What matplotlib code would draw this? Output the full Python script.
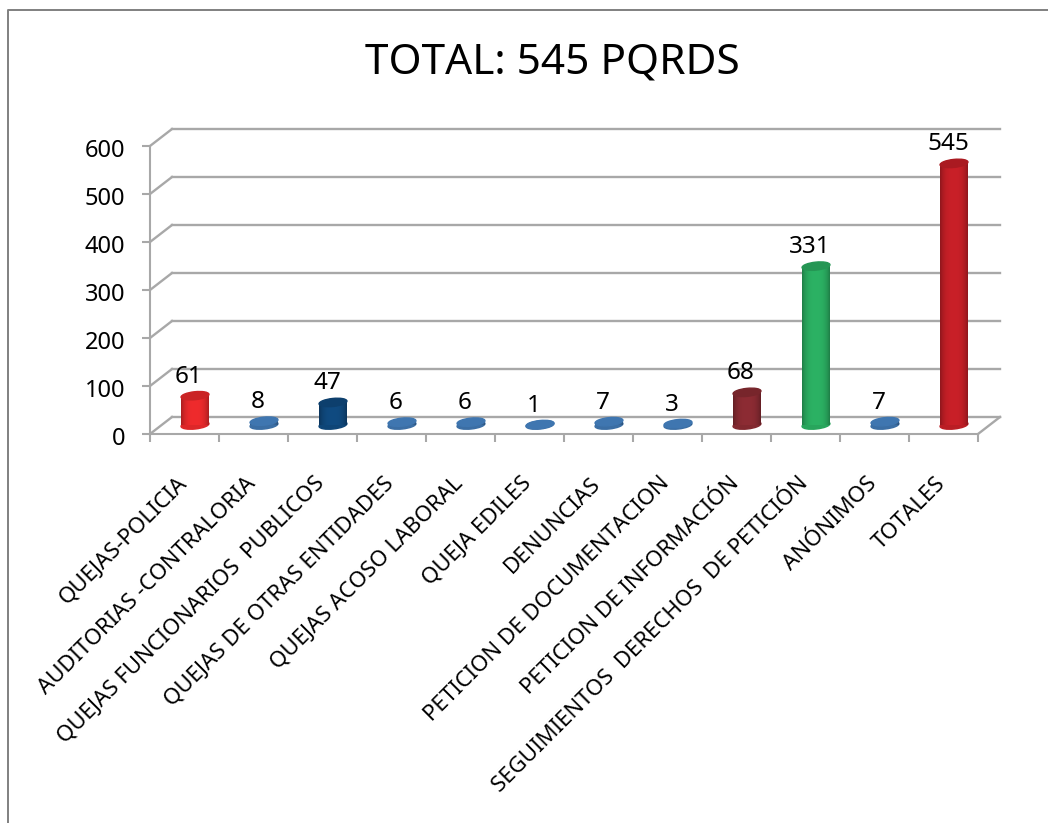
import matplotlib
matplotlib.use('Agg')
import matplotlib.pyplot as plt
from matplotlib.colors import to_rgb
from matplotlib.lines import Line2D
from matplotlib.patches import Ellipse
from matplotlib.transforms import Affine2D, IdentityTransform, offset_copy

categories = ['QUEJAS-POLICIA', 'AUDITORIAS -CONTRALORIA', 'QUEJAS FUNCIONARIOS  PUBLICOS',
              'QUEJAS DE OTRAS ENTIDADES', 'QUEJAS ACOSO LABORAL', 'QUEJA EDILES', 'DENUNCIAS',
              'PETICION DE DOCUMENTACION', 'PETICION DE INFORMACIÓN',
              'SEGUIMIENTOS  DERECHOS  DE PETICIÓN', 'ANÓNIMOS', 'TOTALES']
values = [61, 8, 47, 6, 6, 1, 7, 3, 68, 331, 7, 545]
colors = ['#ee2a2c', '#3f76b0', '#0f4a80', '#3f76b0', '#3f76b0', '#3f76b0', '#3f76b0', '#3f76b0',
          '#8c2b33', '#2bb163', '#3f76b0', '#c81f27']
yticks = [0, 100, 200, 300, 400, 500, 600]
title = 'TOTAL: 545 PQRDS'

W, H = 1048, 823
GREY = '#a8a8a8'
DX, DY = 22, 17  # profundidad del piso en pixeles

plt.rcParams['font.family'] = ['Noto Sans', 'DejaVu Sans']

fig = plt.figure(figsize=(W / 100, H / 100), dpi=100)
ax = fig.add_axes([150 / W, (H - 434) / H, 828 / W, 288 / H])
ax.set_xlim(0, len(categories))
ax.set_ylim(0, 600)
ax.autoscale(False)
ax.patch.set_visible(False)

for s in ['top', 'right']:
    ax.spines[s].set_visible(False)
for s in ['left', 'bottom']:
    ax.spines[s].set_color(GREY)
    ax.spines[s].set_linewidth(1.5)

# marco exterior, abierto abajo y a la derecha
fig.add_artist(Line2D([8 / W, 8 / W, 1], [0, (H - 10) / H, (H - 10) / H],
                      color='#808080', lw=1.4))

# grilla del plano de atras
back = offset_copy(ax.transData, fig, x=DX, y=DY, units='dots')
for v in yticks:
    ax.plot([0, len(categories)], [v, v], color=GREY, lw=1.7, transform=back, clip_on=False, zorder=1)
    px, py = ax.transData.transform((0, v))
    ax.plot([px, px + DX], [py, py + DY], color=GREY, lw=1.7, transform=IdentityTransform(),
            clip_on=False, zorder=1)
px, py = ax.transData.transform((len(categories), 0))
ax.plot([px, px + DX], [py, py + DY], color=GREY, lw=1.7, transform=IdentityTransform(),
        clip_on=False, zorder=1)

# cilindros
mid = offset_copy(ax.transData, fig, x=10.5, y=9, units='dots')
bar_px = 28
bar_w = bar_px / 69
strips = 28
for i, (v, c) in enumerate(zip(values, colors)):
    rgb = to_rgb(c)
    cx = i + 0.5
    x0, y0 = mid.transform((cx, 0))
    x1, y1 = mid.transform((cx, v))
    low = tuple(ch * 0.93 for ch in rgb)
    base = Ellipse((0, 0), bar_px, 8, angle=6, color=low,
                   transform=Affine2D().translate(x0, y0), zorder=3, clip_on=False)
    ax.add_patch(base)
    for k in range(strips):
        t = (k + 0.5) / strips
        edge = abs(2 * t - 1) ** 3
        shade = tuple(ch * (1 - 0.3 * edge) for ch in rgb)
        ax.bar(cx - bar_w / 2 + bar_w * t, v, width=bar_w / strips * 1.1, color=shade, linewidth=0,
               transform=mid, zorder=4, clip_on=False)
    dark = tuple(ch * 0.85 for ch in rgb)
    top = Ellipse((0, 0), bar_px, 8, angle=6, color=dark if v > 20 else c,
                  transform=Affine2D().translate(x1, y1), zorder=5, clip_on=False)
    ax.add_patch(top)
    ax.annotate(str(v), xy=(cx, v), xycoords=mid, xytext=(-6, 19), textcoords='offset pixels',
                ha='center', va='center', fontsize=17.5, color='black', zorder=6, annotation_clip=False)

# ejes
ax.set_yticks(yticks)
ax.tick_params(axis='y', length=6, width=1.5, color=GREY, labelsize=17, pad=12)
ax.set_xticks(range(len(categories) + 1))
ax.set_xticklabels([])
ax.tick_params(axis='x', which='major', length=6, width=1.5, color=GREY)
ax.set_xticks([i + 0.38 for i in range(len(categories))], minor=True)
ax.set_xticklabels(categories, minor=True, rotation=45, ha='right', va='top',
                   rotation_mode='anchor', fontsize=16)
ax.tick_params(axis='x', which='minor', length=0, pad=28)
for lab in ax.get_yticklabels():
    lab.set_transform(lab.get_transform() + Affine2D().translate(0, -2))

fig.text(552 / W, (H - 63) / H, title, ha='center', va='center', fontsize=30.5, color='black')

plt.savefig('out.png', dpi=100)
